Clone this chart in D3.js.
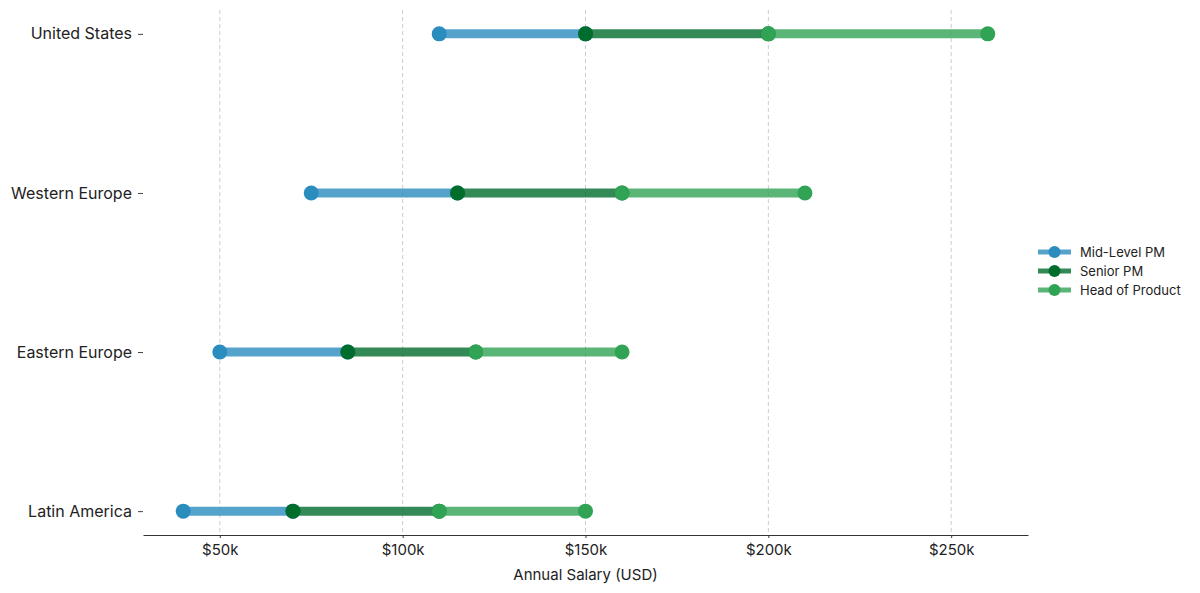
<!DOCTYPE html>
<html>
<head>
<meta charset="utf-8">
<script src="https://cdn.jsdelivr.net/npm/d3@7"></script>
<style>
  body { margin: 0; background: #fff; }
  text { font-family: Inter, Roboto, "Noto Sans", sans-serif; fill: #222; }
</style>
</head>
<body>
<svg id="chart" width="1200" height="593"></svg>
<script>
// salary bands in $k: mid-level start, senior start, head start, head end
const regions = ["United States", "Western Europe", "Eastern Europe", "Latin America"];
const midLevel = [110, 75, 50, 40];
const senior = [150, 115, 85, 70];
const headOfProduct = [200, 160, 120, 110];
const headTop = [260, 210, 160, 150];
const xTicks = [50, 100, 150, 200, 250];
const seriesNames = ["Mid-Level PM", "Senior PM", "Head of Product"];
const seriesColors = ["#2b8cbe", "#006d2c", "#31a354"];

const svg = d3.select("#chart");
const margin = { top: 10, right: 172, bottom: 58, left: 143 };
const width = 1200 - margin.left - margin.right;
const height = 593 - margin.top - margin.bottom;

const g = svg.append("g")
  .attr("transform", `translate(${margin.left},${margin.top})`);

const x = d3.scaleLinear().domain([29, 271]).range([0, width]);
const y = d3.scalePoint().domain(regions).range([0, height]).padding(0.15);

// grid
g.selectAll("line.grid")
  .data(xTicks)
  .join("line")
  .attr("class", "grid")
  .attr("x1", d => x(d)).attr("x2", d => x(d))
  .attr("y1", 0).attr("y2", height)
  .attr("stroke", "#ccc")
  .attr("stroke-width", 1)
  .attr("stroke-dasharray", "4,3");

// x axis
const xAxis = g.append("g")
  .attr("transform", `translate(0,${height})`)
  .call(d3.axisBottom(x).tickValues(xTicks).tickSize(3).tickSizeOuter(0).tickPadding(6).tickFormat(d => `$${d}k`));
xAxis.select(".domain").attr("stroke", "#333");
xAxis.selectAll(".tick line").attr("stroke", "#333");
xAxis.selectAll("text").style("font-size", "15px").attr("fill", "#222");

g.append("text")
  .attr("x", width / 2)
  .attr("y", height + 45)
  .attr("text-anchor", "middle")
  .style("font-size", "15px")
  .text("Annual Salary (USD)");

// y axis
const yAxis = g.append("g")
  .call(d3.axisLeft(y).tickSize(5).tickSizeOuter(0).tickPadding(6));
yAxis.select(".domain").remove();
yAxis.selectAll(".tick line").attr("stroke", "#444");
yAxis.selectAll("text").style("font-size", "16px").attr("fill", "#222");

// segments per region
const rows = regions.map((r, i) => ({
  region: r,
  segs: [
    [midLevel[i], senior[i]],
    [senior[i], headOfProduct[i]],
    [headOfProduct[i], headTop[i]]
  ]
}));

rows.forEach(row => {
  const cy = y(row.region);
  row.segs.forEach((s, k) => {
    g.append("line")
      .attr("x1", x(s[0])).attr("x2", x(s[1]))
      .attr("y1", cy).attr("y2", cy)
      .attr("stroke", seriesColors[k])
      .attr("stroke-opacity", 0.8)
      .attr("stroke-width", 9);
    g.selectAll(null)
      .data(s)
      .join("circle")
      .attr("cx", d => x(d))
      .attr("cy", cy)
      .attr("r", 7.5)
      .attr("fill", seriesColors[k]);
  });
});

// legend
const legend = svg.append("g").attr("transform", "translate(1038,252)");
seriesNames.forEach((name, i) => {
  const lg = legend.append("g").attr("transform", `translate(0,${i * 19})`);
  lg.append("line")
    .attr("x1", 0).attr("x2", 33)
    .attr("stroke", seriesColors[i])
    .attr("stroke-opacity", 0.8)
    .attr("stroke-width", 5);
  lg.append("circle").attr("cx", 16.5).attr("r", 6).attr("fill", seriesColors[i]);
  lg.append("text")
    .attr("x", 42)
    .attr("dy", "0.35em")
    .style("font-size", "13px")
    .text(name);
});
</script>
</body>
</html>
